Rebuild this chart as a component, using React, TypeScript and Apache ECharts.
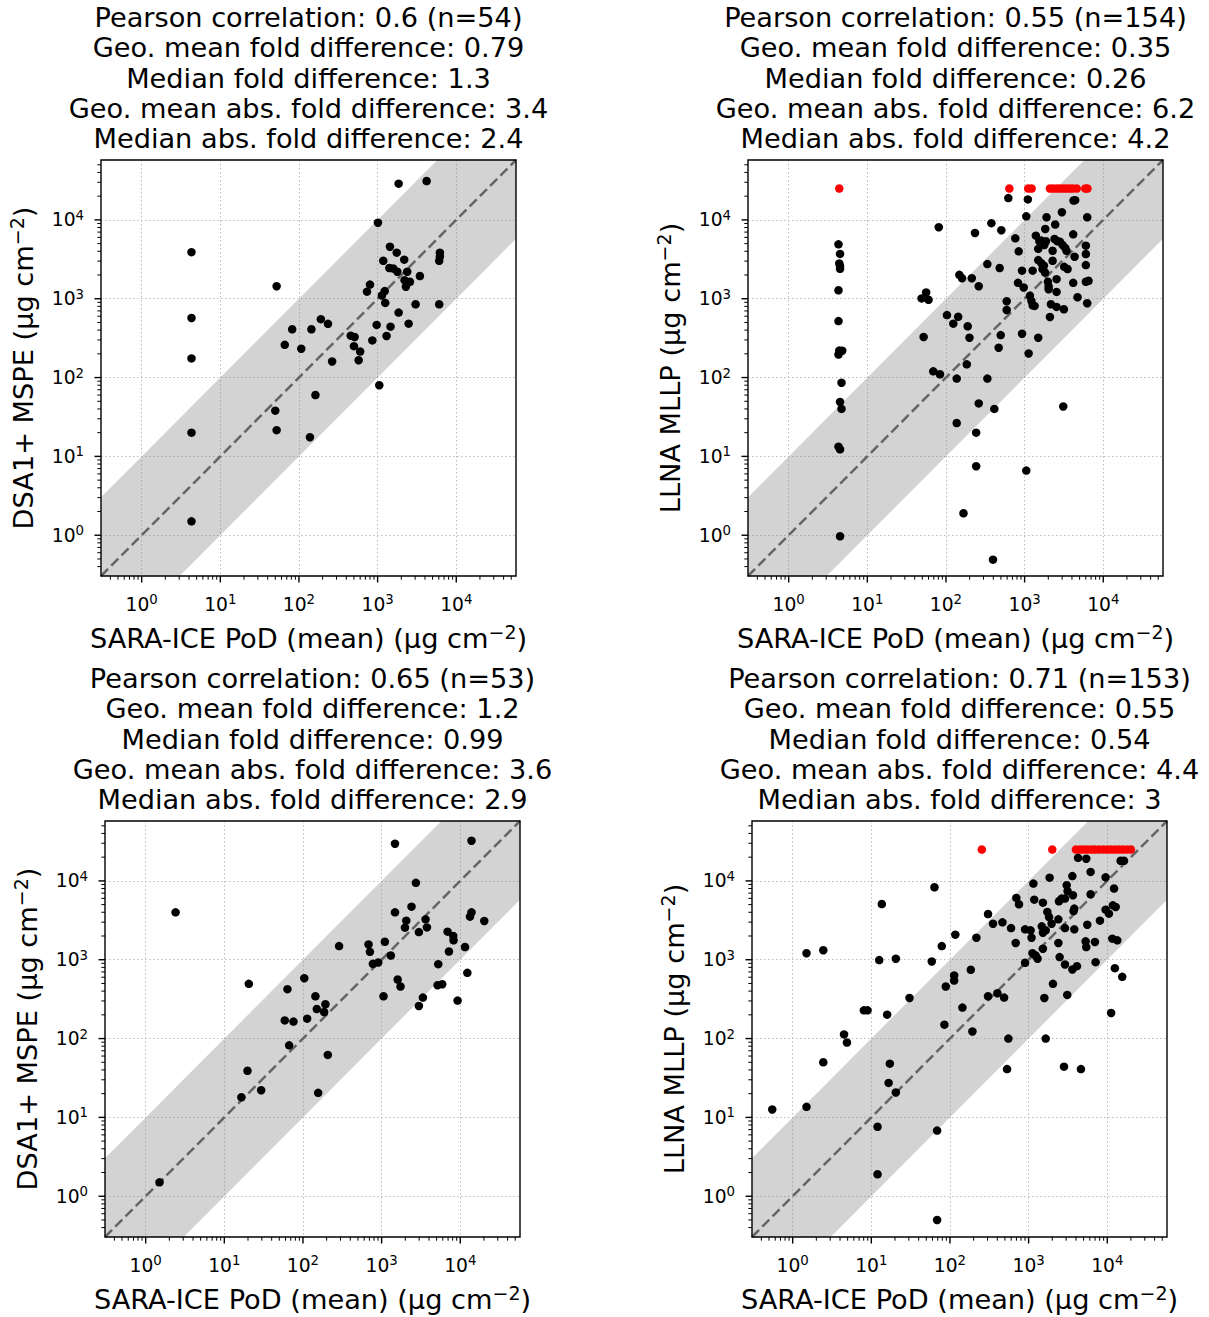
import React, { useEffect, useRef } from 'react';
import * as echarts from 'echarts';

// ---------- axis range and ticks (log10 scale, both axes) ----------
const AX_MIN = 0.304;
const AX_MAX = 57500;
const FOLD = 10; // shaded band: 10-fold either side of y = x
const MAJOR_TICKS = [1, 10, 100, 1000, 10000];
const MINOR_TICKS: number[] = [];
for (let e = -1; e <= 4; e++) {
  for (let k = 2; k <= 9; k++) {
    const v = k * Math.pow(10, e);
    if (v > AX_MIN && v < AX_MAX) MINOR_TICKS.push(v);
  }
}

// ---------- texts ----------
const X_NAME = 'SARA-ICE PoD (mean)';
const Y_NAMES = ['DSA1+ MSPE', 'LLNA MLLP', 'DSA1+ MSPE', 'LLNA MLLP'];
const TITLES = [
  ['Pearson correlation: 0.6 (n=54)', 'Geo. mean fold difference: 0.79', 'Median fold difference: 1.3', 'Geo. mean abs. fold difference: 3.4', 'Median abs. fold difference: 2.4'],
  ['Pearson correlation: 0.55 (n=154)', 'Geo. mean fold difference: 0.35', 'Median fold difference: 0.26', 'Geo. mean abs. fold difference: 6.2', 'Median abs. fold difference: 4.2'],
  ['Pearson correlation: 0.65 (n=53)', 'Geo. mean fold difference: 1.2', 'Median fold difference: 0.99', 'Geo. mean abs. fold difference: 3.6', 'Median abs. fold difference: 2.9'],
  ['Pearson correlation: 0.71 (n=153)', 'Geo. mean fold difference: 0.55', 'Median fold difference: 0.54', 'Geo. mean abs. fold difference: 4.4', 'Median abs. fold difference: 3'],
];

// ---------- data: [SARA-ICE PoD, comparator] (µg cm^-2) ----------
const dsaTop: [number, number][] = [
  [4.3, 3900], [4.3, 570], [4.3, 175], [4.3, 20], [4.3, 1.5], [52, 1440], [82, 410], [66, 260], [107, 232], [144, 410],
  [190, 550], [234, 480], [264, 160], [50, 38], [52, 21.5], [162, 60], [138, 17.5], [455, 340], [510, 327], [500, 250],
  [600, 214], [574, 166], [733, 1230], [800, 1510], [857, 296], [973, 465], [1010, 9200], [1050, 80], [1135, 1100], [1230, 1250],
  [1250, 885], [1180, 3030], [1300, 337], [1435, 4570], [1410, 2450], [1580, 2420], [1750, 3840], [1780, 2200], [1460, 442], [1850, 667],
  [1850, 28800], [2180, 3130], [2380, 2200], [2200, 1720], [2580, 1640], [2290, 1420], [2480, 483], [3040, 850], [3450, 1940], [4200, 31100],
  [6190, 3840], [6190, 3410], [6070, 3030], [6070, 850],
];

const llnaTop: [number, number][] = [
  [4.3, 4900], [4.5, 3700], [4.4, 2800], [4.5, 2600], [4.5, 2400], [4.3, 1280], [4.3, 520], [4.4, 220], [4.8, 219], [4.3, 196],
  [4.7, 86], [4.5, 49], [4.7, 40], [4.3, 13.3], [4.5, 12.3], [4.5, 0.97], [56, 1200], [49, 1010], [60, 970], [52, 327],
  [81, 8070], [69, 120], [84, 110], [103, 620], [124, 483], [143, 590], [148, 2010], [160, 1820], [189, 447], [199, 320],
  [184, 147], [137, 97], [137, 26.5], [213, 1820], [234, 6820], [261, 1440], [261, 47], [242, 20], [242, 7.5], [167, 1.9],
  [336, 2750], [336, 97], [378, 9080], [482, 2450], [506, 7400], [497, 346], [468, 239], [412, 40], [396, 0.49], [621, 18900],
  [592, 930], [592, 720], [762, 5830], [841, 3990], [824, 1590], [973, 1390], [927, 2270], [927, 360], [1100, 18200], [1050, 11100],
  [1050, 6.6], [1265, 2270], [1170, 1090], [1220, 940], [1265, 826], [1340, 811], [1125, 202], [1490, 320], [1390, 6310], [1490, 4280],
  [1540, 5350], [1630, 5460], [1870, 5350], [1780, 4810], [1490, 3090], [1630, 2830], [1760, 2620], [1690, 2380], [1820, 2150], [1980, 1640],
  [2020, 1430], [2020, 1320], [1900, 10800], [1830, 7670], [2450, 8730], [2270, 4060], [2270, 3030], [2160, 851], [2550, 787], [2100, 587],
  [2400, 5730], [2620, 5350], [2810, 5300], [3040, 4810], [3280, 4400], [3410, 4060], [2980, 12500], [3190, 2540], [3520, 2380], [2550, 1770],
  [2550, 1220], [3160, 735], [3100, 43], [4190, 17600], [4400, 17800], [4150, 6560], [4320, 3410], [4150, 1590], [4710, 1045], [6250, 10800],
  [6010, 4710], [6010, 3690], [6010, 2670], [6010, 1640], [6500, 1690], [6250, 877],
];
const llnaTopCapped: [number, number][] = [
  [4.4, 25000], [640, 25000], [1110, 25000], [1230, 25000], [2100, 25000], [2300, 25000], [2550, 25000], [2800, 25000],
  [3100, 25000], [3400, 25000], [3750, 25000], [4100, 25000], [4600, 25000], [5900, 25000], [6300, 25000],
];

const dsaBottom: [number, number][] = [
  [1.5, 1.5], [2.4, 3990], [20.5, 494], [19.7, 39], [16.5, 18], [29.4, 22.1], [63.5, 423], [58.7, 170], [75.7, 164], [66.7, 82],
  [104, 583], [113, 179], [144, 344], [150, 237], [193, 272], [186, 217], [207, 62], [156, 20.5], [288, 1490], [682, 1560],
  [710, 1260], [774, 887], [906, 923], [1100, 1690], [1057, 344], [1310, 1130], [1480, 29600], [1480, 3990], [1600, 561], [1740, 457],
  [2060, 3130], [1980, 2550], [2400, 4710], [2730, 9440], [2980, 2240], [3620, 3250], [3770, 2570], [2980, 259], [3350, 331], [5250, 879],
  [5150, 475], [5900, 489], [6900, 2270], [8150, 2000], [8220, 1760], [7180, 1270], [9250, 303], [11500, 1450], [12300, 682], [13900, 32300],
  [13900, 3990], [13300, 3520], [20200, 3100],
];

const llnaBottom: [number, number][] = [
  [0.55, 12.6], [1.5, 1210], [2.45, 1320], [2.45, 50], [1.5, 13.6], [4.5, 113], [4.9, 89], [8.05, 228], [8.95, 228], [13.6, 5090],
  [12.6, 990], [20.5, 1030], [15.9, 201], [30.6, 327], [17.2, 48], [16.6, 27.4], [20.5, 20.7], [12, 7.6], [12, 1.9], [63.5, 8300],
  [58.7, 951], [78.7, 1490], [68.7, 6.8], [68.7, 0.5], [88.5, 457], [113, 631], [113, 545], [117, 2080], [85, 150], [144, 247],
  [193, 123], [184, 745], [217, 1900], [305, 3800], [353, 2860], [465, 2980], [305, 344], [401, 376], [488, 331], [598, 2520],
  [553, 100], [532, 41], [685, 1630], [698, 6080], [755, 5050], [902, 2430], [1060, 2360], [1090, 1900], [902, 914], [1120, 1210],
  [1230, 1130], [1300, 1030], [1150, 9250], [1180, 5780], [1520, 5300], [1470, 2650], [1520, 2200], [1650, 2360], [1520, 1380], [1730, 4040],
  [1820, 3480], [1960, 2860], [1585, 327], [1650, 100], [1850, 11000], [2040, 494], [2390, 3250], [2390, 1630], [2480, 1080], [2430, 5510],
  [2630, 5960], [2900, 5960], [3050, 8810], [3130, 7400], [2900, 2520], [2900, 871], [3100, 358], [2820, 44], [3600, 11500], [3660, 6580],
  [3810, 4450], [3730, 4150], [3810, 2430], [3600, 752], [4120, 828], [4250, 19600], [4630, 41], [5410, 19100], [6140, 13000], [6140, 6760],
  [5570, 2780], [5310, 1710], [5410, 1450], [6970, 1680], [7110, 931], [8070, 3130], [9530, 11100], [9530, 4320], [10500, 3840], [12200, 8000],
  [11800, 4900], [12800, 4670], [11600, 1850], [13400, 1760], [12500, 782], [15500, 607], [11200, 211], [14800, 18000], [16300, 18000],
];
const llnaBottomCapped: [number, number][] = [
  [254, 25000], [2000, 25000], [4000, 25000], [4500, 25000], [5000, 25000], [5600, 25000], [6300, 25000], [7000, 25000], [7900, 25000],
  [8900, 25000], [10000, 25000], [11200, 25000], [12600, 25000], [14100, 25000], [15800, 25000], [17800, 25000], [20000, 25000],
];

const PANELS = [
  { pts: dsaTop, capped: [] as [number, number][] },
  { pts: llnaTop, capped: llnaTopCapped },
  { pts: dsaBottom, capped: [] as [number, number][] },
  { pts: llnaBottom, capped: llnaBottomCapped },
];

// ---------- layout ----------
const GRIDS = [
  { left: 101, top: 160 },
  { left: 748, top: 160 },
  { left: 105, top: 821 },
  { left: 752, top: 821 },
];
const PLOT_W = 415;
const PLOT_H = 416;
const FONT = 'DejaVu Sans';

const TICK_RICH = {
  b: { fontSize: 18.7, lineHeight: 22, fontFamily: FONT, color: '#000' },
  s: { fontSize: 13.3, lineHeight: 14, verticalAlign: 'top', fontFamily: FONT, color: '#000' },
};
const NAME_RICH = {
  n: { fontSize: 27.2, lineHeight: 32, fontFamily: FONT, fill: '#000', color: '#000' },
  s: { fontSize: 19, lineHeight: 20, verticalAlign: 'top', fontFamily: FONT, fill: '#000', color: '#000' },
};

function powLabel(v: number): string {
  const l = Math.log10(v);
  const e = Math.round(l);
  if (Math.abs(l - e) > 0.01) return '';
  return `{b|10}{s|${e}}`;
}

function bandRender(_params: any, api: any) {
  const corners = [
    [AX_MIN, AX_MIN * FOLD],
    [AX_MAX / FOLD, AX_MAX],
    [AX_MAX, AX_MAX],
    [AX_MAX, AX_MAX / FOLD],
    [AX_MIN * FOLD, AX_MIN],
    [AX_MIN, AX_MIN],
  ].map((p) => api.coord(p));
  return {
    type: 'polygon',
    shape: { points: corners },
    style: { fill: 'rgba(128,128,128,0.35)', stroke: 'none' },
  };
}

function frameRender(params: any, api: any) {
  const cs = params.coordSys;
  const bottom = cs.y + cs.height;
  const left = cs.x;
  const children: any[] = [];
  const addTick = (x1: number, y1: number, x2: number, y2: number, w: number) =>
    children.push({ type: 'line', shape: { x1, y1, x2, y2 }, style: { stroke: '#000', lineWidth: w } });
  MAJOR_TICKS.forEach((v) => {
    const px = api.coord([v, AX_MIN])[0];
    addTick(px, bottom, px, bottom + 6.5, 1.4);
    const py = api.coord([AX_MIN, v])[1];
    addTick(left - 6.5, py, left, py, 1.4);
  });
  MINOR_TICKS.forEach((v) => {
    const px = api.coord([v, AX_MIN])[0];
    addTick(px, bottom, px, bottom + 3.7, 1.0);
    const py = api.coord([AX_MIN, v])[1];
    addTick(left - 3.7, py, left, py, 1.0);
  });
  children.push({
    type: 'rect',
    shape: { x: cs.x, y: cs.y, width: cs.width, height: cs.height },
    style: { fill: 'none', stroke: '#000', lineWidth: 1.4 },
  });
  return { type: 'group', children };
}

export default function App() {
  const ref = useRef<HTMLDivElement>(null);

  useEffect(() => {
    document.body.style.margin = '0';
    if (!ref.current) return;
    const chart = echarts.init(ref.current, undefined, { renderer: 'svg' });

    const grid = GRIDS.map((g) => ({ left: g.left, top: g.top, width: PLOT_W, height: PLOT_H, containLabel: false }));

    const axisCommon = (i: number) => ({
      type: 'log' as const,
      logBase: 10,
      gridIndex: i,
      min: AX_MIN,
      max: AX_MAX,
      axisLine: { show: false },
      axisTick: { show: false },
      minorTick: { show: false },
      splitLine: {
        show: true,
        showMinLine: false,
        showMaxLine: false,
        lineStyle: { color: '#bdbdbd', width: 1, type: [1.5, 2.5] },
      },
      axisLabel: { margin: 17, formatter: powLabel, rich: TICK_RICH, color: '#000', showMinLabel: false, showMaxLabel: false },
    });

    const xAxis = GRIDS.map((_, i) => axisCommon(i));
    const yAxis = GRIDS.map((_, i) => axisCommon(i));

    const series: any[] = [];
    PANELS.forEach((p, i) => {
      series.push({
        type: 'custom',
        xAxisIndex: i,
        yAxisIndex: i,
        z: 1,
        silent: true,
        renderItem: bandRender,
        data: [[AX_MIN, AX_MIN]],
      });
      series.push({
        type: 'line',
        xAxisIndex: i,
        yAxisIndex: i,
        z: 2,
        silent: true,
        symbol: 'none',
        lineStyle: { color: '#656565', width: 2.5, type: [10, 4.5] },
        data: [[AX_MIN, AX_MIN], [AX_MAX, AX_MAX]],
      });
      series.push({
        type: 'scatter',
        xAxisIndex: i,
        yAxisIndex: i,
        z: 3,
        symbol: 'circle',
        symbolSize: 8.5,
        itemStyle: { color: '#000', opacity: 1 },
        data: p.pts,
      });
      if (p.capped.length) {
        series.push({
          type: 'scatter',
          xAxisIndex: i,
          yAxisIndex: i,
          z: 3,
          symbol: 'circle',
          symbolSize: 8.5,
          itemStyle: { color: '#ff0000', opacity: 1 },
          data: p.capped,
        });
      }
      series.push({
        type: 'custom',
        xAxisIndex: i,
        yAxisIndex: i,
        z: 10,
        silent: true,
        renderItem: frameRender,
        data: [[AX_MIN, AX_MIN]],
      });
    });

    const graphic: any[] = [];
    GRIDS.forEach((g, i) => {
      const cx = g.left + PLOT_W / 2;
      graphic.push({
        type: 'text',
        x: cx,
        y: g.top - 157.5,
        style: {
          text: TITLES[i].join('\n'),
          fontSize: 27.2,
          fontFamily: FONT,
          lineHeight: 30.3,
          fill: '#000',
          align: 'center',
          verticalAlign: 'top',
          textAlign: 'center',
          textVerticalAlign: 'top',
        },
      });
      graphic.push({
        type: 'text',
        x: cx,
        y: g.top + 478,
        style: {
          text: `{n|${X_NAME} (μg cm}{s|−2}{n|)}`,
          rich: NAME_RICH,
          fill: '#000',
          align: 'center',
          verticalAlign: 'middle',
          textAlign: 'center',
          textVerticalAlign: 'middle',
        },
      });
      graphic.push({
        type: 'text',
        x: g.left - 78,
        y: g.top + 208,
        rotation: Math.PI / 2,
        style: {
          text: `{n|${Y_NAMES[i]} (μg cm}{s|−2}{n|)}`,
          rich: NAME_RICH,
          fill: '#000',
          align: 'center',
          verticalAlign: 'middle',
          textAlign: 'center',
          textVerticalAlign: 'middle',
        },
      });
    });

    chart.setOption({
      animation: false,
      backgroundColor: '#fff',
      textStyle: { fontFamily: FONT },
      grid,
      xAxis,
      yAxis,
      series,
      graphic,
    });

    return () => {
      chart.dispose();
    };
  }, []);

  return <div ref={ref} style={{ width: 1209, height: 1317 }} />;
}
